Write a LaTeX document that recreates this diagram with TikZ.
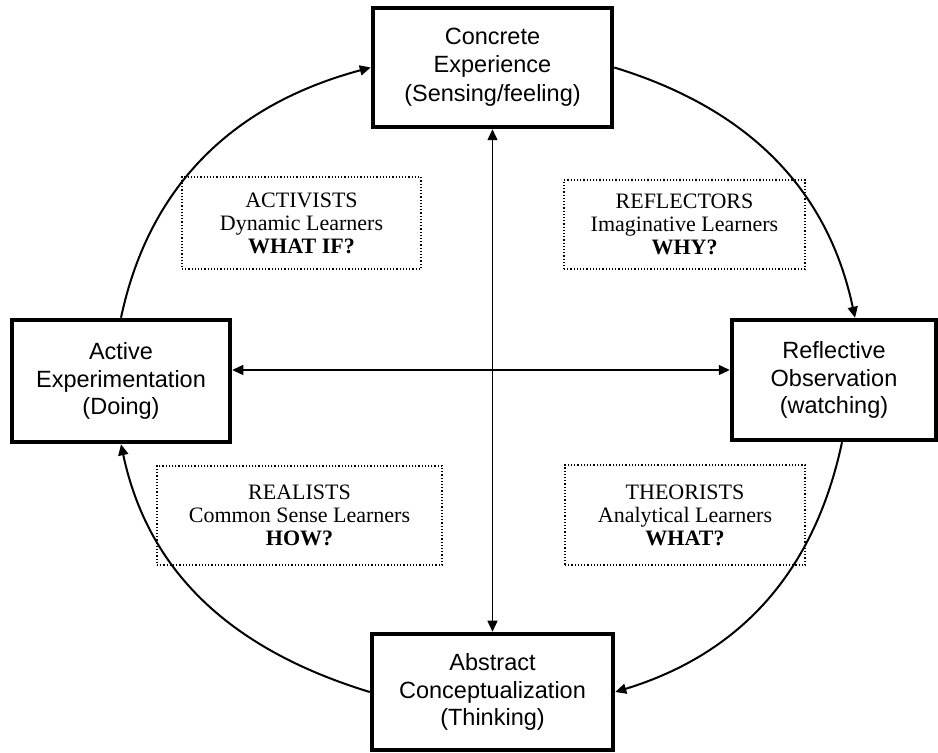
\documentclass[tikz,border=0pt]{standalone}
\usepackage{fontspec}
\setmainfont{Liberation Serif}
\newfontfamily\stagefont{Liberation Sans}
\usetikzlibrary{arrows.meta}

\begin{document}
\begin{tikzpicture}[x=1pt,y=1pt,
    stage/.style={draw, line width=4.5pt, align=center, inner sep=0pt,
        font=\stagefont\fontsize{23.5}{27.5}\selectfont},
    learner/.style={draw, dotted, line width=1.2pt, align=center, inner sep=0pt,
        font=\fontsize{22}{23}\selectfont},
    cycle/.style={line width=2pt, -{Triangle[length=11pt,width=10pt]}},
    axis/.style={line width=1.4pt,
        {Triangle[length=11pt,width=10pt]}-{Triangle[length=11pt,width=10pt]}}]
        \useasboundingbox (0,0) rectangle (938,753);
        \fill[white] (0,0) rectangle (938,753);
        \node [stage, minimum width=239, minimum height=119] (ce) at (492.5,685.5)
            {Concrete\\Experience\\[2pt](Sensing/feeling)};
        \node [stage, minimum width=204, minimum height=120] (ro) at (834,373)
            {Reflective\\Observation\\(watching)};
        \node [stage, minimum width=241, minimum height=116] (ac) at (492.5,61)
            {Abstract\\Conceptualization\\(Thinking)};
        \node [stage, minimum width=218, minimum height=122] (ae) at (121,372)
            {Active\\Experimentation\\(Doing)};
        \node [learner, minimum width=239, minimum height=92] (activists) at (301.5,530)
            {ACTIVISTS\\Dynamic Learners\\\textbf{WHAT IF?}};
        \node [learner, minimum width=241, minimum height=89] (reflectors) at (684.5,528.5)
            {REFLECTORS\\Imaginative Learners\\\textbf{WHY?}};
        \node [learner, minimum width=285, minimum height=99] (realists) at (299.5,237.5)
            {REALISTS\\Common Sense Learners\\\textbf{HOW?}};
        \node [learner, minimum width=240, minimum height=100] (theorists) at (685,238)
            {THEORISTS\\Analytical Learners\\\textbf{WHAT?}};
        \draw[axis] (ce.south) -- (ac.north);
        \draw[axis] ([yshift=11pt]ae.east) -- ([yshift=10pt]ro.west);
        \draw[cycle] (ae.north) to[out=78, in=195] (ce.west);
        \draw[cycle] (ce.east) to[out=-17, in=102] ([xshift=21pt]ro.north);
        \draw[cycle] ([xshift=8pt]ro.south) to[out=-102, in=17] (ac.east);
        \draw[cycle] (ac.west) to[out=163, in=-78] (ae.south);
    \end{tikzpicture}
\end{document}
